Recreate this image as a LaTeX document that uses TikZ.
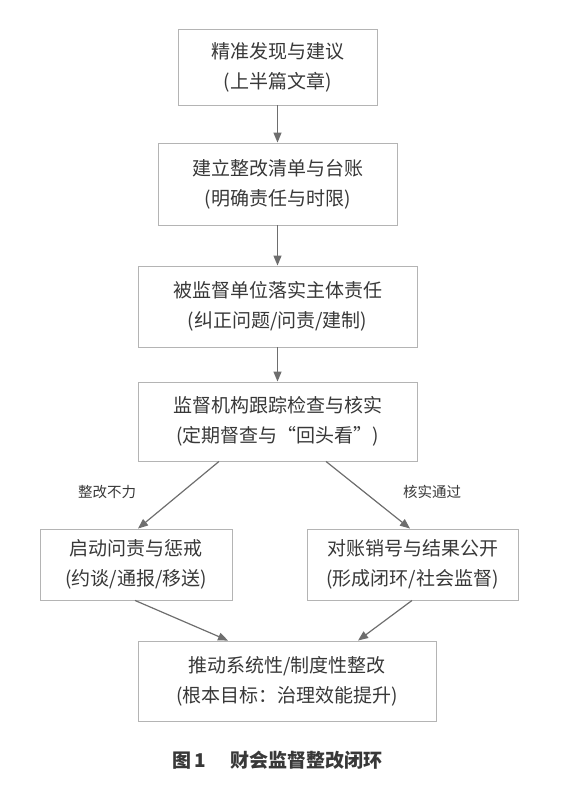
\documentclass[tikz,border=0pt]{standalone}
\usepackage{fontspec}
\setmainfont{Noto Sans CJK SC}
\usetikzlibrary{arrows.meta}
\definecolor{txt}{HTML}{383838}
\definecolor{bord}{HTML}{B4B4B4}
\definecolor{arr}{HTML}{6E6E6E}
\begin{document}
\begin{tikzpicture}[x=1pt,y=-1pt,
  box/.style={draw=bord,line width=0.9pt,fill=white,text=txt,align=center,
    font=\fontsize{19}{30}\selectfont,inner sep=0pt},
  flow/.style={draw=arr,line width=1.2pt,-{Triangle[length=10pt,width=8pt]}},
  lab/.style={text=txt,font=\fontsize{14.5}{17}\selectfont,inner sep=0pt}]
\useasboundingbox (0,0) rectangle (582,791);
\node[box,minimum width=199pt,minimum height=76pt] (b1) at (277.5,67) {精准发现与建议\\(上半篇文章)};
\node[box,minimum width=239pt,minimum height=82pt] (b2) at (277.5,184) {建立整改清单与台账\\(明确责任与时限)};
\node[box,minimum width=279pt,minimum height=81pt] (b3) at (277.5,306.5) {被监督单位落实主体责任\\(纠正问题/问责/建制)};
\node[box,minimum width=279pt,minimum height=79pt] (b4) at (277.5,421.5) {监督机构跟踪检查与核实\\(定期督查与“回头看”)};
\node[box,minimum width=192pt,minimum height=71pt] (b5) at (136,564.5) {启动问责与惩戒\\(约谈/通报/移送)};
\node[box,minimum width=211pt,minimum height=71pt] (b6) at (412.5,564.5) {对账销号与结果公开\\(形成闭环/社会监督)};
\node[box,minimum width=298pt,minimum height=80pt] (b7) at (287,681) {推动系统性/制度性整改\\(根本目标：治理效能提升)};
\node[lab] (l1) at (107,492) {整改不力};
\node[lab] (l2) at (432,492) {核实通过};
\node[text=txt,font=\fontsize{19}{21}\selectfont\bfseries,inner sep=0pt] (cap) at (277.5,760) {图\,1\hspace{1.3em}财会监督整改闭环};
\draw[flow] (b1.south) -- (b2.north);
\draw[flow] (b2.south) -- (b3.north);
\draw[flow] (b3.south) -- (b4.north);
\draw[flow] ([xshift=-58.5pt]b4.south) -- ([xshift=2pt]b5.north);
\draw[flow] ([xshift=48.5pt]b4.south) -- ([xshift=-2.5pt]b6.north);
\draw[flow] ([xshift=-1pt]b5.south) -- ([xshift=-59pt]b7.north);
\draw[flow] ([xshift=-0.5pt]b6.south) -- ([xshift=71pt]b7.north);
\end{tikzpicture}
\end{document}
